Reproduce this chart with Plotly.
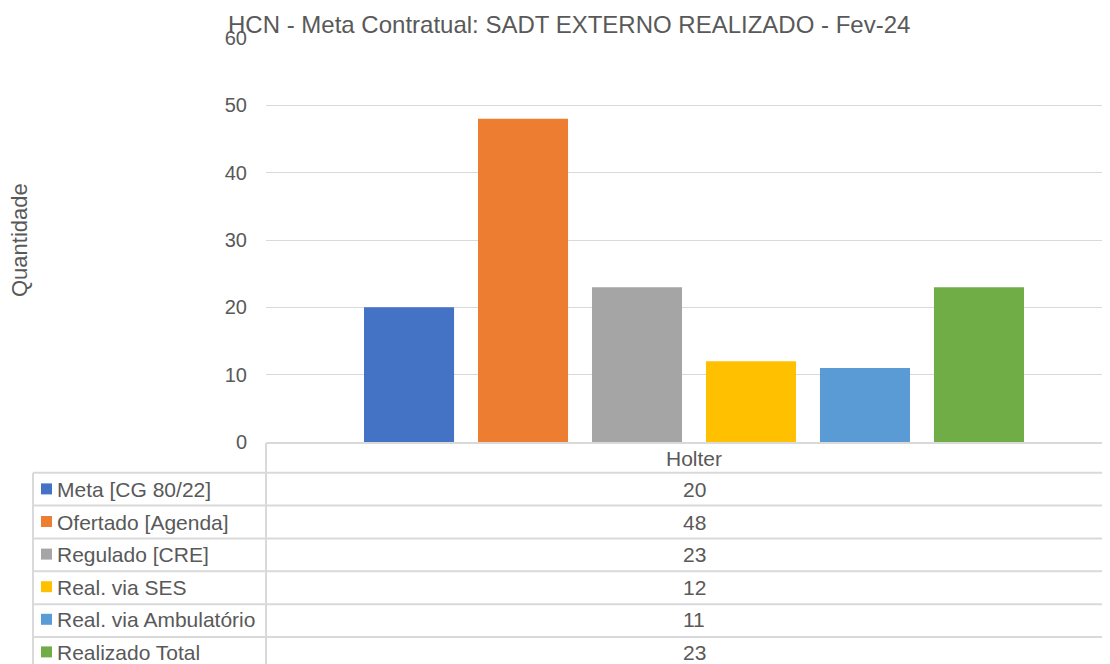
import plotly.graph_objects as go

# ---------------- data ----------------
categories = ["Holter"]
series_names = [
    "Meta [CG 80/22]",
    "Ofertado [Agenda]",
    "Regulado [CRE]",
    "Real. via SES",
    "Real. via Ambulatório",
    "Realizado Total",
]
meta = [20]
ofertado = [48]
regulado = [23]
real_ses = [12]
real_amb = [11]
realizado_total = [23]
series_values = [meta, ofertado, regulado, real_ses, real_amb, realizado_total]
series_colors = ["#4472C4", "#ED7D31", "#A5A5A5", "#FFC000", "#5B9BD5", "#70AD47"]
y_ticks = [0, 10, 20, 30, 40, 50, 60]
chart_title = "HCN - Meta Contratual: SADT EXTERNO REALIZADO - Fev-24"
y_title = "Quantidade"

# ---------------- layout helpers ----------------
# The page body has an 8px margin, so the figure is drawn at (8, 8).
OFF = 8
W, H = 1110 - OFF, 664 - OFF
FONT = "Liberation Sans, Arial, sans-serif"
TXT = "#595959"
LINE = "#D9D9D9"


def fx(x):
    return (x - OFF) / W


def fy(y):
    return 1 - (y - OFF) / H


plot_left, plot_top, plot_bottom = 266, 38, 442
table_left = 33
header_top, header_bottom = 443, 472.7
row_h = 32.86
text_row_h = 32.6
first_text_mid = 489.4

fig = go.Figure()
for name, vals, col in zip(series_names, series_values, series_colors):
    fig.add_trace(go.Bar(name=name, x=categories, y=vals, marker=dict(color=col, line=dict(width=0)),
                         showlegend=False, hoverinfo="y+name"))

shapes = []
annotations = []

# table top border (axis line) and vertical borders
shapes.append(dict(type="line", xref="paper", yref="paper", x0=fx(plot_left), x1=1.0,
                   y0=fy(header_top), y1=fy(header_top), line=dict(color=LINE, width=2)))
shapes.append(dict(type="line", xref="paper", yref="paper", x0=fx(plot_left), x1=fx(plot_left),
                   y0=fy(header_top), y1=fy(680), line=dict(color=LINE, width=2)))
shapes.append(dict(type="line", xref="paper", yref="paper", x0=fx(table_left), x1=fx(table_left),
                   y0=fy(header_bottom), y1=fy(680), line=dict(color=LINE, width=2)))

# header label
annotations.append(dict(xref="x", yref="paper", x=categories[0], y=fy((header_top + header_bottom) / 2 + 0.5),
                        text=categories[0], showarrow=False, xanchor="center", yanchor="middle",
                        font=dict(family=FONT, size=21, color=TXT)))

for i, (name, vals, col) in enumerate(zip(series_names, series_values, series_colors)):
    top = header_bottom + i * row_h
    mid = first_text_mid + i * text_row_h
    shapes.append(dict(type="line", xref="paper", yref="paper", x0=fx(table_left), x1=1.0,
                       y0=fy(top), y1=fy(top), line=dict(color=LINE, width=2)))
    shapes.append(dict(type="rect", xref="paper", yref="paper", x0=fx(41), x1=fx(52),
                       y0=fy(mid - 6), y1=fy(mid + 5), fillcolor=col, line=dict(width=0)))
    annotations.append(dict(xref="paper", yref="paper", x=fx(55), y=fy(mid), text=name,
                            showarrow=False, xanchor="left", yanchor="middle",
                            font=dict(family=FONT, size=21, color=TXT)))
    annotations.append(dict(xref="x", yref="paper", x=categories[0], y=fy(mid), text=str(vals[0]),
                            showarrow=False, xanchor="center", yanchor="middle",
                            font=dict(family=FONT, size=21, color=TXT)))
# bottom line (just off screen)
shapes.append(dict(type="line", xref="paper", yref="paper", x0=fx(table_left), x1=1.0,
                   y0=fy(header_bottom + 6 * row_h), y1=fy(header_bottom + 6 * row_h),
                   line=dict(color=LINE, width=2)))

# title and y title
annotations.append(dict(xref="paper", yref="paper", x=fx(568.5), y=fy(24), text=chart_title, showarrow=False,
                        xanchor="center", yanchor="middle", font=dict(family=FONT, size=24, color=TXT)))
annotations.append(dict(xref="paper", yref="paper", x=fx(19), y=fy(240),
                        text=y_title, showarrow=False, textangle=-90, xanchor="center", yanchor="middle",
                        font=dict(family=FONT, size=22, color=TXT)))

fig.update_layout(
    width=W, height=H,
    margin=dict(l=0, r=0, t=0, b=0),
    paper_bgcolor="white", plot_bgcolor="white",
    barmode="group", bargap=0.201, bargroupgap=0.21,
    xaxis=dict(domain=[fx(plot_left), 1.0], type="category", range=[-0.5, -0.5 + 844 / 856],
               showticklabels=False, showgrid=False, zeroline=False, showline=False, fixedrange=True),
    yaxis=dict(domain=[fy(plot_bottom), fy(plot_top)], range=[0, 60], tickvals=y_ticks,
               showgrid=True, gridcolor=LINE, gridwidth=1, zeroline=False, showline=False,
               ticks="", ticklabelstandoff=18, automargin=False,
               tickfont=dict(family=FONT, size=20, color=TXT)),
    shapes=shapes,
    annotations=annotations,
    showlegend=False,
)

fig.write_html("out.html")
